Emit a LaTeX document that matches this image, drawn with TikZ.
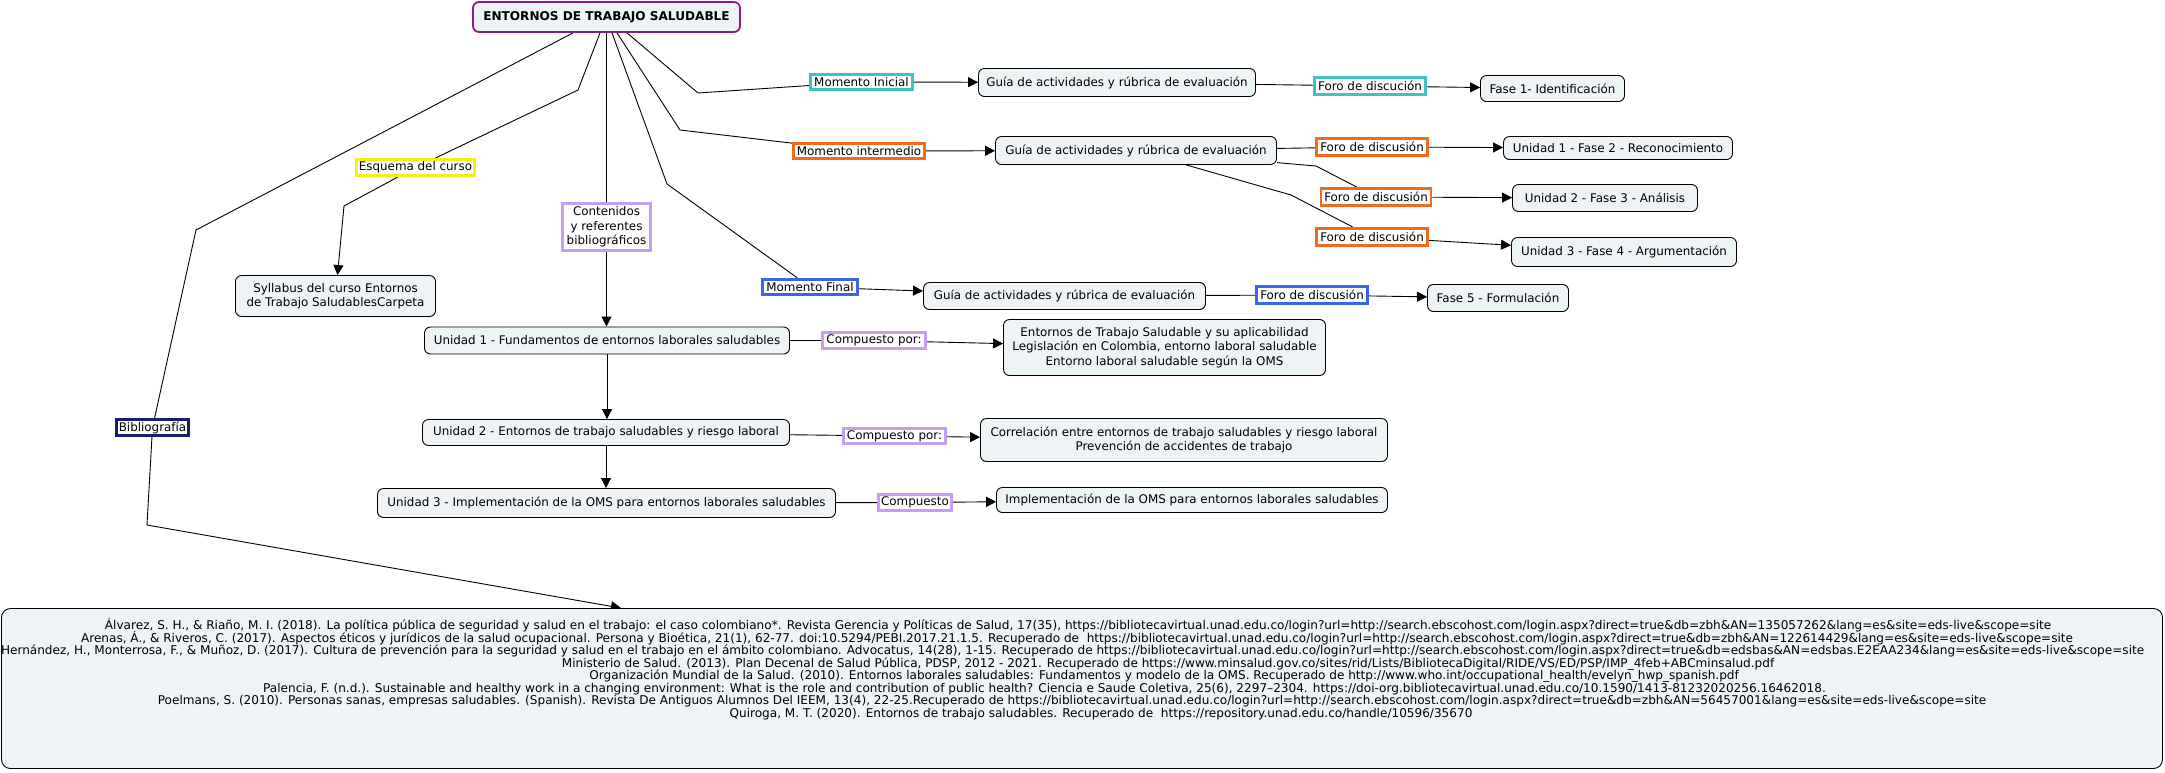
\documentclass[tikz,border=0pt]{standalone}
\usepackage{fontspec}
\setmainfont{DejaVu Sans}
\usetikzlibrary{arrows.meta}
\pgfdeclarelayer{bg}
\pgfsetlayers{bg,main}
\definecolor{nodefill}{HTML}{EEF3F5}
\definecolor{rootpurple}{HTML}{8B1C8B}
\definecolor{lteal}{HTML}{3CC3C3}
\definecolor{lorange}{HTML}{F26A1B}
\definecolor{lblue}{HTML}{3D64E6}
\definecolor{lyellow}{HTML}{F5EE1E}
\definecolor{llilac}{HTML}{C59DF2}
\definecolor{lnavy}{HTML}{1B1B72}
\newlength\bibwidthtest
\newcommand\bibLA{Álvarez, S. H., \& Riaño, M. I. (2018). La política pública de seguridad y salud en el trabajo: el caso colombiano*. Revista Gerencia y Políticas de Salud, 17(35), https://bibliotecavirtual.unad.edu.co/login?url=http://search.ebscohost.com/login.aspx?direct=true\&db=zbh\&AN=135057262\&lang=es\&site=eds-live\&scope=site}
\newcommand\bibLB{Arenas, Á., \& Riveros, C. (2017). Aspectos éticos y jurídicos de la salud ocupacional. Persona y Bioética, 21(1), 62-77. doi:10.5294/PEBI.2017.21.1.5. Recuperado de\ \ https://bibliotecavirtual.unad.edu.co/login?url=http://search.ebscohost.com/login.aspx?direct=true\&db=zbh\&AN=122614429\&lang=es\&site=eds-live\&scope=site}
\newcommand\bibLC{Hernández, H., Monterrosa, F., \& Muñoz, D. (2017). Cultura de prevención para la seguridad y salud en el trabajo en el ámbito colombiano. Advocatus, 14(28), 1-15. Recuperado de https://bibliotecavirtual.unad.edu.co/login?url=http://search.ebscohost.com/login.aspx?direct=true\&db=edsbas\&AN=edsbas.E2EAA234\&lang=es\&site=eds-live\&scope=site}
\newcommand\bibLD{Ministerio de Salud. (2013). Plan Decenal de Salud Pública, PDSP, 2012 - 2021. Recuperado de https://www.minsalud.gov.co/sites/rid/Lists/BibliotecaDigital/RIDE/VS/ED/PSP/IMP\_4feb+ABCminsalud.pdf}
\newcommand\bibLE{Organización Mundial de la Salud. (2010). Entornos laborales saludables: Fundamentos y modelo de la OMS. Recuperado de http://www.who.int/occupational\_health/evelyn\_hwp\_spanish.pdf}
\newcommand\bibLF{Palencia, F. (n.d.). Sustainable and healthy work in a changing environment: What is the role and contribution of public health? Ciencia e Saude Coletiva, 25(6), 2297–2304. https://doi-org.bibliotecavirtual.unad.edu.co/10.1590/1413-81232020256.16462018.}
\newcommand\bibLG{Poelmans, S. (2010). Personas sanas, empresas saludables. (Spanish). Revista De Antiguos Alumnos Del IEEM, 13(4), 22-25.Recuperado de https://bibliotecavirtual.unad.edu.co/login?url=http://search.ebscohost.com/login.aspx?direct=true\&db=zbh\&AN=56457001\&lang=es\&site=eds-live\&scope=site}
\newcommand\bibLH{Quiroga, M. T. (2020). Entornos de trabajo saludables. Recuperado de\ \ https://repository.unad.edu.co/handle/10596/35670}
\tikzset{
  mainfont/.style={font=\fontsize{11.9}{14.3}\selectfont},
  concept/.style={draw=black, line width=0.9pt, rounded corners=6pt, fill=nodefill,
    align=center, inner sep=0pt, mainfont},
  lbl/.style={draw=#1, line width=2.6pt, fill=white, inner sep=0pt, align=center, mainfont},
  link/.style={draw=black, line width=0.9pt},
  arr/.style={link, -{Triangle[length=10pt,width=10pt]}},
}
\begin{document}
\settowidth\bibwidthtest{\fontsize{10}{12}\selectfont\bibLC}%
\pgfmathsetmacro\bibfs{2143/\bibwidthtest*10}%
\begin{tikzpicture}[x=1pt,y=-1pt]
\useasboundingbox (0,0) rectangle (2165,772);

% root
\node[concept, draw=rootpurple, line width=1.8pt, minimum width=267pt, minimum height=30pt,
  font=\fontsize{12.1}{14}\selectfont\bfseries] (root) at (606.5,17) {ENTORNOS DE TRABAJO SALUDABLE};

% top row
\node[lbl=lteal, minimum width=102pt, minimum height=15.5pt] (mi) at (861.5,82) {Momento Inicial};
\node[concept, minimum width=277pt, minimum height=28pt] (g1) at (1117,82.5) {Guía de actividades y rúbrica de evaluación};
\node[lbl=lteal, minimum width=111pt, minimum height=17.5pt] (f1) at (1370,86) {Foro de discución};
\node[concept, minimum width=144pt, minimum height=26pt] (fa1) at (1552.5,88.5) {Fase 1- Identificación};

\node[lbl=lorange, minimum width=131pt, minimum height=15.5pt] (mt) at (859,151) {Momento intermedio};
\node[concept, minimum width=281pt, minimum height=28pt] (g2) at (1136,150.5) {Guía de actividades y rúbrica de evaluación};
\node[lbl=lorange, minimum width=111pt, minimum height=17.5pt] (f2a) at (1372,147) {Foro de discusión};
\node[concept, minimum width=229pt, minimum height=23pt] (u1f) at (1618,148) {Unidad 1 - Fase 2 - Reconocimiento};
\node[lbl=lorange, minimum width=110pt, minimum height=17.5pt] (f2b) at (1376,197) {Foro de discusión};
\node[concept, minimum width=185pt, minimum height=27pt] (u2f) at (1605,198) {Unidad 2 - Fase 3 - Análisis};
\node[lbl=lorange, minimum width=111pt, minimum height=17.5pt] (f2c) at (1372,237) {Foro de discusión};
\node[concept, minimum width=225pt, minimum height=29pt] (u3f) at (1624,252) {Unidad 3 - Fase 4 - Argumentación};

\node[lbl=lblue, minimum width=95pt, minimum height=15.5pt] (mf) at (810,287) {Momento Final};
\node[concept, minimum width=282pt, minimum height=27pt] (g3) at (1064.5,296) {Guía de actividades y rúbrica de evaluación};
\node[lbl=lblue, minimum width=111pt, minimum height=17.5pt] (f3) at (1312,295) {Foro de discusión};
\node[concept, minimum width=141pt, minimum height=27pt] (fa5) at (1498,298) {Fase 5 - Formulación};

% left part
\node[lbl=lyellow, minimum width=118pt, minimum height=16.5pt] (esq) at (415.5,167.5) {Esquema del curso};
\node[concept, minimum width=200pt, minimum height=41pt] (syl) at (335.5,296) {Syllabus del curso Entornos\\de Trabajo SaludablesCarpeta};
\node[lbl=llilac, minimum width=88pt, minimum height=47pt] (cont) at (606.5,227) {Contenidos\\y referentes\\bibliográficos};

% units
\node[concept, minimum width=365pt, minimum height=27pt] (u1) at (607,340.5) {Unidad 1 - Fundamentos de entornos laborales saludables};
\node[lbl=llilac, minimum width=103pt, minimum height=16.5pt] (c1) at (874,340.5) {Compuesto por:};
\node[concept, minimum width=322pt, minimum height=56pt] (b1) at (1164.5,347.5) {Entornos de Trabajo Saludable y su aplicabilidad\\Legislación en Colombia, entorno laboral saludable\\Entorno laboral saludable según la OMS};

\node[concept, minimum width=367pt, minimum height=26pt] (u2) at (606,432.5) {Unidad 2 - Entornos de trabajo saludables y riesgo laboral};
\node[lbl=llilac, minimum width=102pt, minimum height=15.5pt] (c2) at (894.5,436) {Compuesto por:};
\node[concept, minimum width=407pt, minimum height=43pt] (b2) at (1184,440) {Correlación entre entornos de trabajo saludables y riesgo laboral\\Prevención de accidentes de trabajo};

\node[concept, minimum width=458pt, minimum height=29pt] (u3) at (606.5,503) {Unidad 3 - Implementación de la OMS para entornos laborales saludables};
\node[lbl=llilac, minimum width=73pt, minimum height=16.5pt] (c3) at (915,502.5) {Compuesto};
\node[concept, minimum width=391pt, minimum height=25pt] (b3) at (1192,500) {Implementación de la OMS para entornos laborales saludables};

% bibliography
\node[lbl=lnavy, minimum width=72pt, minimum height=16.5pt] (bibl) at (152.5,427.5) {Bibliografía};
\node[concept, rounded corners=9pt, minimum width=2161pt, minimum height=160pt] (bibbox) at (1082,688.5) {};

\tikzset{bibtext/.style={anchor=base, inner sep=0pt, font=\fontsize{\bibfs}{12.5}\selectfont}}
\node[bibtext] (bl1) at (1078,629.5) {\bibLA};
\node[bibtext] (bl2) at (1077,642) {\bibLB};
\node[bibtext] (bl3) at (1072.5,654.5) {\bibLC};
\node[bibtext] (bl4) at (1168,667) {\bibLD};
\node[bibtext] (bl5) at (1164,679.5) {\bibLE};
\node[bibtext] (bl6) at (1044.5,692) {\bibLF};
\node[bibtext] (bl7) at (1072,704.5) {\bibLG};
\node[bibtext] (bl8) at (1101,717) {\bibLH};

% bend points
\coordinate (bA) at (196,230);
\coordinate (bB) at (147,525);
\coordinate (eA) at (578,90);
\coordinate (eB) at (344,206);
\coordinate (miA) at (698,93);
\coordinate (mtA) at (680,130);
\coordinate (mfA) at (667,184);
\coordinate (fbA) at (1316,166);
\coordinate (fcA) at (1291,195);

\begin{pgfonlayer}{bg}
\fill[white] (0,0) rectangle (2165,772);
\draw[link] ([xshift=-33.5pt]root.south) -- (bA) -- (bibl);
\draw[arr] (bibl) -- (bB) -- ([xshift=-461pt]bibbox.north);
\draw[link] ([xshift=-6.5pt]root.south) -- (eA) -- (esq);
\draw[arr] (esq) -- (eB) -- (syl);
\draw[link] (root.south) -- (cont.north);
\draw[arr] (cont.south) -- (cont.south |- u1.north);
\draw[arr] (u1.south) -- (u1.south |- u2.north);
\draw[arr] (u2.south) -- (u2.south |- u3.north);
\draw[link] ([xshift=5.5pt]root.south) -- (mfA) -- (mf);
\draw[link] ([xshift=10.5pt]root.south) -- (mtA) -- (mt);
\draw[link] ([xshift=20.5pt]root.south) -- (miA) -- (mi);

\draw[arr] (mi) -- (g1);
\draw[link] (g1) -- (f1);
\draw[arr] (f1) -- (fa1);
\draw[arr] (mt) -- (g2);
\draw[link] (g2) -- (f2a);
\draw[arr] (f2a) -- (u1f);
\draw[link] (g2) -- (fbA) -- (f2b);
\draw[arr] (f2b) -- (u2f);
\draw[link] (g2) -- (fcA) -- (f2c);
\draw[arr] (f2c) -- (u3f);
\draw[arr] (mf) -- (g3);
\draw[link] (g3) -- (f3);
\draw[arr] (f3) -- (fa5);

\draw[link] (u1) -- (c1);
\draw[arr] (c1) -- (b1);
\draw[link] (u2) -- (c2);
\draw[arr] (c2) -- (b2);
\draw[link] (u3) -- (c3);
\draw[arr] (c3) -- (b3);
\end{pgfonlayer}
\end{tikzpicture}
\end{document}
